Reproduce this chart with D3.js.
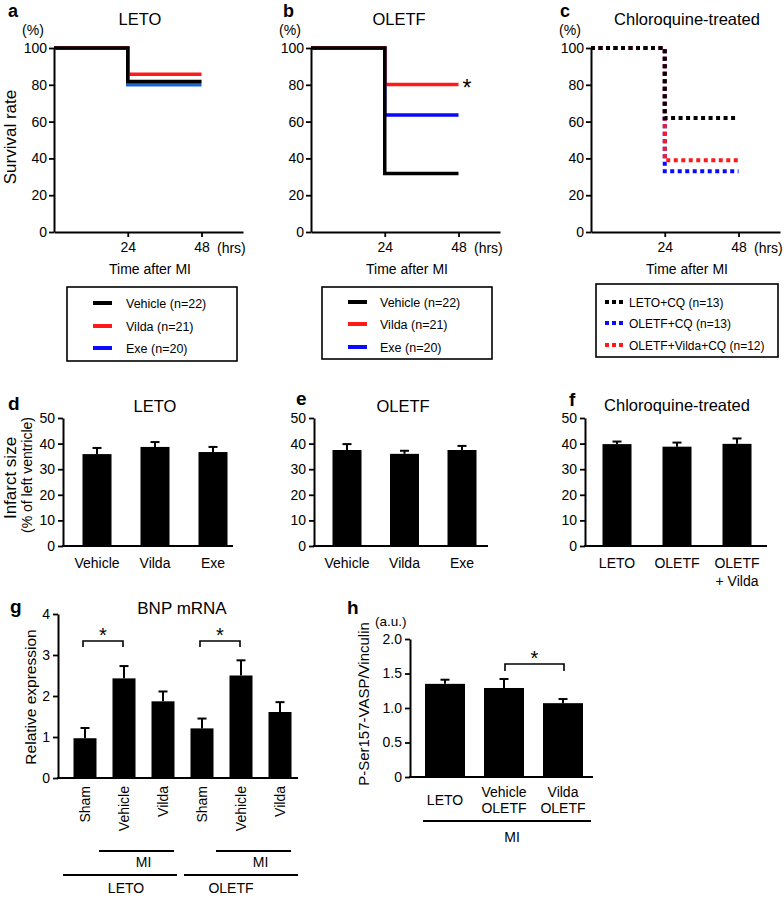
<!DOCTYPE html>
<html><head><meta charset="utf-8">
<script src="https://cdn.jsdelivr.net/npm/d3@7"></script>
<style>
body{margin:0;background:#fff}
svg{display:block}
</style></head><body>
<svg id="chart" width="784" height="900"></svg>
<script>
// ---------------- DATA ----------------
const hours = [0, 24, 48];
const hourTicks = [24, 48];
const survivalYTicks = [0, 20, 40, 60, 80, 100];
const survivalLegendAB = ["Vehicle (n=22)", "Vilda (n=21)", "Exe (n=20)"];
const letoVehicle = [100, 81.8, 81.8];
const letoVilda = [100, 85.7, 85.7];
const letoExe = [100, 80, 80];
const oletfVehicle = [100, 31.8, 31.8];
const oletfVilda = [100, 80.2, 80.2];
const oletfExe = [100, 63.6, 63.6];
const cqLegend = ["LETO+CQ (n=13)", "OLETF+CQ (n=13)", "OLETF+Vilda+CQ (n=12)"];
const cqLeto = [100, 62, 62];
const cqOletf = [100, 33, 33];
const cqOletfVilda = [100, 39, 39];

const infarctTicks = [0, 10, 20, 30, 40, 50];
const infarctCatsDE = ["Vehicle", "Vilda", "Exe"];
const infarctLeto = [35.9, 38.7, 36.7];
const infarctLetoSem = [2.4, 1.9, 2.0];
const infarctOletf = [37.5, 36.0, 37.5];
const infarctOletfSem = [2.3, 1.2, 1.6];
const infarctCatsF = [["LETO"], ["OLETF"], ["OLETF", "+ Vilda"]];
const infarctCq = [39.8, 38.8, 39.9];
const infarctCqSem = [1.0, 1.6, 2.1];

const bnpTicks = [0, 1, 2, 3, 4];
const bnpCats = ["Sham", "Vehicle", "Vilda", "Sham", "Vehicle", "Vilda"];
const bnpValues = [0.97, 2.43, 1.87, 1.21, 2.50, 1.61];
const bnpSem = [0.25, 0.30, 0.24, 0.24, 0.37, 0.24];
const bnpGroups = ["LETO", "OLETF"];

const vaspTicks = [0, 0.5, 1.0, 1.5, 2.0];
const vaspCats = [["LETO"], ["Vehicle", "OLETF"], ["Vilda", "OLETF"]];
const vaspValues = [1.35, 1.29, 1.07];
const vaspSem = [0.06, 0.13, 0.06];

// ---------------- HELPERS ----------------
const FONT = "'Liberation Sans', Arial, Helvetica, sans-serif";
const svg = d3.select("#chart");
const RED = "#ff1a1a", BLUE = "#0a0aff", BLUE_A = "#1e64d2";

function txt(x, y, str, o = {}) {
  const t = svg.append("text").attr("x", x).attr("y", y).text(str)
    .attr("font-family", FONT).attr("font-size", o.size || 14)
    .attr("text-anchor", o.anchor || "start").attr("fill", "#000");
  if (o.bold) t.attr("font-weight", "bold");
  if (o.rotate) t.attr("transform", `rotate(-90,${x},${y})`);
  if (o.dy) t.attr("dy", o.dy);
  return t;
}
function styleAxis(sel, fs) {
  sel.attr("font-family", FONT).attr("font-size", fs);
  sel.select(".domain").attr("stroke", "#000").attr("stroke-width", 2);
  sel.selectAll(".tick line").attr("stroke", "#000").attr("stroke-width", 1.8);
  sel.selectAll(".tick text").attr("fill", "#000");
}

// ---------------- SURVIVAL PANELS ----------------
function survivalPanel(cfg) {
  const x = d3.scaleLinear().domain([0, 61.5]).range([cfg.x0, cfg.x0 + 189]);
  const y = d3.scaleLinear().domain([0, 100]).range([232, 48]);
  const g = svg.append("g");
  const ya = g.append("g").attr("transform", `translate(${cfg.x0},0)`)
    .call(d3.axisLeft(y).tickValues(survivalYTicks).tickSize(5).tickPadding(2).tickSizeOuter(0));
  styleAxis(ya, 14);
  const xa = g.append("g").attr("transform", `translate(0,${y(0)})`)
    .call(d3.axisBottom(x).tickValues(hourTicks).tickSize(5).tickPadding(5).tickSizeOuter(0));
  styleAxis(xa, 14);
  const line = d3.line().x((d, i) => x(hours[i])).y(d => y(d)).curve(d3.curveStepAfter);
  cfg.series.forEach(s => {
    g.append("path").attr("d", line(s.values)).attr("fill", "none")
      .attr("stroke", s.color).attr("stroke-width", s.dash ? 4 : 3.5)
      .attr("stroke-dasharray", s.dash || null);
  });
  txt(cfg.x0 + 163, 253, "(hrs)", { size: 14 });
  txt(cfg.x0 - 21, 35, "(%)", { size: 14, anchor: "middle" });
  txt(cfg.letterX, 17, cfg.letter, { size: 18, bold: true });
  txt(cfg.titleX, 25, cfg.title, { size: 16.5, anchor: "middle" });
  txt(cfg.x0 + 96, 274, "Time after MI", { size: 14, anchor: "middle" });
  return { x, y };
}

survivalPanel({ x0: 54, letter: "a", letterX: 8, title: "LETO", titleX: 140,
  series: [{ values: letoExe, color: BLUE_A }, { values: letoVilda, color: RED }, { values: letoVehicle, color: "#000" }] });
txt(16, 137, "Survival rate", { size: 17, anchor: "middle", rotate: true });

const pb = survivalPanel({ x0: 311, letter: "b", letterX: 283, title: "OLETF", titleX: 399,
  series: [{ values: oletfExe, color: BLUE }, { values: oletfVilda, color: RED }, { values: oletfVehicle, color: "#000" }] });
txt(pb.x(48) + 4, pb.y(oletfVilda[2]) + 12, "*", { size: 23 });

survivalPanel({ x0: 591, letter: "c", letterX: 560, title: "Chloroquine-treated", titleX: 687,
  series: [{ values: cqOletf, color: BLUE, dash: "4,3.5" },
           { values: cqOletfVilda, color: RED, dash: "4,3.5" },
           { values: cqLeto, color: "#000", dash: "4,3.5" }] });

// legends
function solidLegend(bx, by, bw, bh, lx, rows, tx, colors) {
  svg.append("rect").attr("x", bx).attr("y", by).attr("width", bw).attr("height", bh)
    .attr("fill", "none").attr("stroke", "#000").attr("stroke-width", 1.6);
  survivalLegendAB.forEach((lab, i) => {
    svg.append("line").attr("x1", lx).attr("x2", lx + 19).attr("y1", rows[i]).attr("y2", rows[i])
      .attr("stroke", colors[i]).attr("stroke-width", 4);
    txt(tx, rows[i] + 4.5, lab, { size: 12.5 });
  });
}
solidLegend(67, 287, 170, 74, 93, [303, 326, 348], 126, ["#000", RED, BLUE]);
solidLegend(322, 287, 170, 72, 348, [302, 324, 347], 380, ["#000", RED, BLUE]);
svg.append("rect").attr("x", 596).attr("y", 284).attr("width", 182).attr("height", 73)
  .attr("fill", "none").attr("stroke", "#000").attr("stroke-width", 1.6);
[["#000", 302], [BLUE, 323], [RED, 345]].forEach(([c, yy], i) => {
  svg.append("line").attr("x1", 605).attr("x2", 625).attr("y1", yy).attr("y2", yy)
    .attr("stroke", c).attr("stroke-width", 4).attr("stroke-dasharray", "4,3");
  txt(629, yy + 4.5, cqLegend[i], { size: 12 });
});

// ---------------- BAR PANELS ----------------
function barPanel(cfg) {
  const y = d3.scaleLinear().domain(cfg.domain).range([cfg.y0, cfg.yTop]);
  const x = d3.scalePoint().domain(d3.range(cfg.values.length))
    .range([cfg.x0 + cfg.inset[0], cfg.x0 + cfg.inset[1]]);
  const g = svg.append("g");
  const ya = g.append("g").attr("transform", `translate(${cfg.x0},0)`)
    .call(d3.axisLeft(y).tickValues(cfg.ticks).tickFormat(cfg.fmt || (d => d))
      .tickSize(5).tickPadding(3).tickSizeOuter(0));
  styleAxis(ya, 14);
  g.append("line").attr("x1", cfg.x0 - 1).attr("x2", cfg.xEnd).attr("y1", y(0)).attr("y2", y(0))
    .attr("stroke", "#000").attr("stroke-width", 2);
  cfg.values.forEach((v, i) => {
    g.append("rect").attr("x", x(i) - cfg.bw / 2).attr("y", y(v))
      .attr("width", cfg.bw).attr("height", y(0) - y(v)).attr("fill", "#000");
    const top = y(v + cfg.sem[i]);
    g.append("line").attr("x1", x(i)).attr("x2", x(i)).attr("y1", y(v)).attr("y2", top)
      .attr("stroke", "#000").attr("stroke-width", 2);
    g.append("line").attr("x1", x(i) - 4.5).attr("x2", x(i) + 4.5).attr("y1", top).attr("y2", top)
      .attr("stroke", "#000").attr("stroke-width", 2);
  });
  return { x, y };
}

const pd = barPanel({ x0: 63, xEnd: 233, y0: 546, yTop: 418, domain: [0, 50], ticks: infarctTicks,
  values: infarctLeto, sem: infarctLetoSem, inset: [34, 150], bw: 29 });
infarctCatsDE.forEach((c, i) => txt(pd.x(i), 568, c, { size: 14, anchor: "middle" }));
txt(8, 410, "d", { size: 19, bold: true });
txt(155, 412, "LETO", { size: 16.5, anchor: "middle" });
txt(16, 478, "Infarct size", { size: 17, anchor: "middle", rotate: true });
txt(32, 475, "(% of left ventricle)", { size: 14, anchor: "middle", rotate: true });

const pe = barPanel({ x0: 314, xEnd: 488, y0: 546, yTop: 418, domain: [0, 50], ticks: infarctTicks,
  values: infarctOletf, sem: infarctOletfSem, inset: [33, 148], bw: 29 });
infarctCatsDE.forEach((c, i) => txt(pe.x(i), 568, c, { size: 14, anchor: "middle" }));
txt(296, 405, "e", { size: 19, bold: true });
txt(403, 412, "OLETF", { size: 16.5, anchor: "middle" });

const pf = barPanel({ x0: 585, xEnd: 767, y0: 546, yTop: 418, domain: [0, 50], ticks: infarctTicks,
  values: infarctCq, sem: infarctCqSem, inset: [32, 152], bw: 29 });
infarctCatsF.forEach((lines, i) => lines.forEach((l, j) =>
  txt(pf.x(i), 568 + j * 18, l, { size: 14, anchor: "middle" })));
txt(569, 406, "f", { size: 19, bold: true });
txt(677, 411, "Chloroquine-treated", { size: 16.5, anchor: "middle" });

// g: BNP mRNA
const pg = barPanel({ x0: 58, xEnd: 298, y0: 778, yTop: 614, domain: [0, 4], ticks: bnpTicks,
  values: bnpValues, sem: bnpSem, inset: [27, 222], bw: 23 });
bnpCats.forEach((c, i) => txt(pg.x(i), 786, c, { size: 14, anchor: "end", rotate: true, dy: "0.36em" }));
txt(10, 613, "g", { size: 19, bold: true });
txt(182, 614, "BNP mRNA", { size: 17, anchor: "middle" });
txt(36, 697, "Relative expression", { size: 15.5, anchor: "middle", rotate: true });
function hline(x1, x2, yy, w = 2) {
  svg.append("line").attr("x1", x1).attr("x2", x2).attr("y1", yy).attr("y2", yy)
    .attr("stroke", "#000").attr("stroke-width", w);
}
function bracket(xa, xb, yy, drop) {
  svg.append("path").attr("d", `M${xa},${yy + drop}V${yy}H${xb}V${yy + drop}`)
    .attr("fill", "none").attr("stroke", "#000").attr("stroke-width", 1.6);
  txt((xa + xb) / 2, yy + 1, "*", { size: 20, anchor: "middle" });
}
[0, 3].forEach(k => {
  bracket(pg.x(k) - 2, pg.x(k + 1) - 1, 641, 6);
  hline(pg.x(k + 1) - 25, pg.x(k + 2) + 11, 851);
  txt((pg.x(k + 1) + pg.x(k + 2)) / 2, 867, "MI", { size: 14, anchor: "middle" });
});
hline(pg.x(0) - 22, pg.x(2) + 14, 875);
hline(pg.x(3) - 18, pg.x(5) + 18, 875);
txt(126, 893, bnpGroups[0], { size: 14, anchor: "middle" });
txt(231, 893, bnpGroups[1], { size: 14, anchor: "middle" });

// h: VASP
const ph = barPanel({ x0: 410, xEnd: 593, y0: 777, yTop: 639, domain: [0, 2], ticks: vaspTicks,
  values: vaspValues, sem: vaspSem, inset: [35, 153], bw: 40,
  fmt: d => d === 0 ? "0" : d3.format(".1f")(d) });
vaspCats.forEach((lines, i) => {
  if (lines.length === 1) txt(ph.x(i), 805, lines[0], { size: 14, anchor: "middle" });
  else lines.forEach((l, j) => txt(ph.x(i), 797 + j * 16, l, { size: 14, anchor: "middle" }));
});
txt(347, 614, "h", { size: 19, bold: true });
txt(375, 626, "(a.u.)", { size: 13.5 });
txt(369, 704, "P-Ser157-VASP/Vinculin", { size: 15, anchor: "middle", rotate: true });
bracket(ph.x(1) + 1, ph.x(2) + 1, 664, 7);
hline(ph.x(0) - 22, ph.x(2) + 28, 821);
txt(512, 842, "MI", { size: 14, anchor: "middle" });
</script>
</body></html>
